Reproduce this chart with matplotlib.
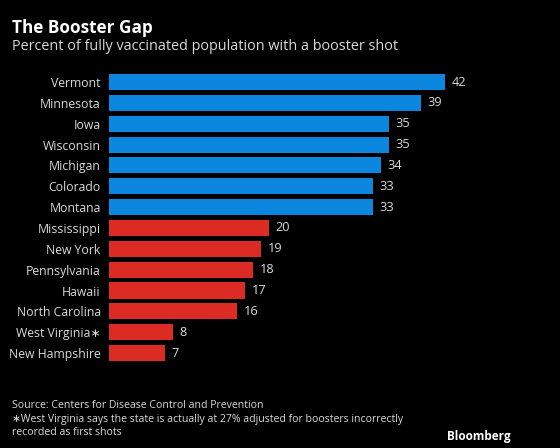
import matplotlib
matplotlib.use("Agg")
import matplotlib.pyplot as plt
from matplotlib import font_manager

states = ["Vermont", "Minnesota", "Iowa", "Wisconsin", "Michigan", "Colorado", "Montana",
          "Mississippi", "New York", "Pennsylvania", "Hawaii", "North Carolina",
          "West Virginia\u2217", "New Hampshire"]
values = [42, 39, 35, 35, 34, 33, 33, 20, 19, 18, 17, 16, 8, 7]
groups = ["high"] * 7 + ["low"] * 7

names = {f.name for f in font_manager.fontManager.ttflist}
fam = None
for cand in ["Liberation Sans Narrow", "Open Sans", "Lato", "DejaVu Sans"]:
    if cand in names:
        fam = cand
        break
plt.rcParams['font.family'] = [fam, 'DejaVu Sans']

BG = "black"
TXT = "#d9d9d9"
colors = {"high": "#0C87E0", "low": "#DC2A24"}

fig = plt.figure(figsize=(5.6, 4.48), dpi=100, facecolor=BG)
W, H = 560, 448
left_px, px_per_unit = 109, 8.0
xmax = 50
top_px, row = 71.6, 20.85
n = len(states)
ax = fig.add_axes([left_px / W, (H - (top_px + n * row)) / H, xmax * px_per_unit / W, n * row / H])
ax.set_facecolor(BG)

ypos = list(range(n))
ax.barh(ypos, values, height=0.77, color=[colors[g] for g in groups])
ax.set_xlim(0, xmax)
ax.set_ylim(n - 0.5, -0.5)
for s in ax.spines.values():
    s.set_visible(False)
ax.set_xticks([])
ax.set_yticks(ypos)
ax.set_yticklabels(states, color=TXT, fontsize=8.8)
ax.tick_params(axis='y', length=0, pad=6)
for y, v in zip(ypos, values):
    ax.text(v + 0.85, y, f"{v}", va='center', ha='left', color=TXT, fontsize=9.2)

fig.text(12 / W, 1 - 28 / H, "The Booster Gap", color="white", fontsize=12.3, fontweight='bold', va='center')
fig.text(12 / W, 1 - 46 / H, "Percent of fully vaccinated population with a booster shot",
         color=TXT, fontsize=10.4, va='center')
fig.text(12 / W, 1 - 405 / H, "Source: Centers for Disease Control and Prevention", color=TXT, fontsize=7.6, va='center')
fig.text(12 / W, 1 - 419 / H, "\u2217West Virginia says the state is actually at 27% adjusted for boosters incorrectly",
         color=TXT, fontsize=7.6, va='center')
fig.text(12 / W, 1 - 432 / H, "recorded as first shots", color=TXT, fontsize=7.6, va='center')
fig.text(511 / W, 1 - 436 / H, "Bloomberg", color="white", fontsize=8.5, fontweight='bold', va='center', ha='right')

fig.savefig("out.png", dpi=100, facecolor=BG)
